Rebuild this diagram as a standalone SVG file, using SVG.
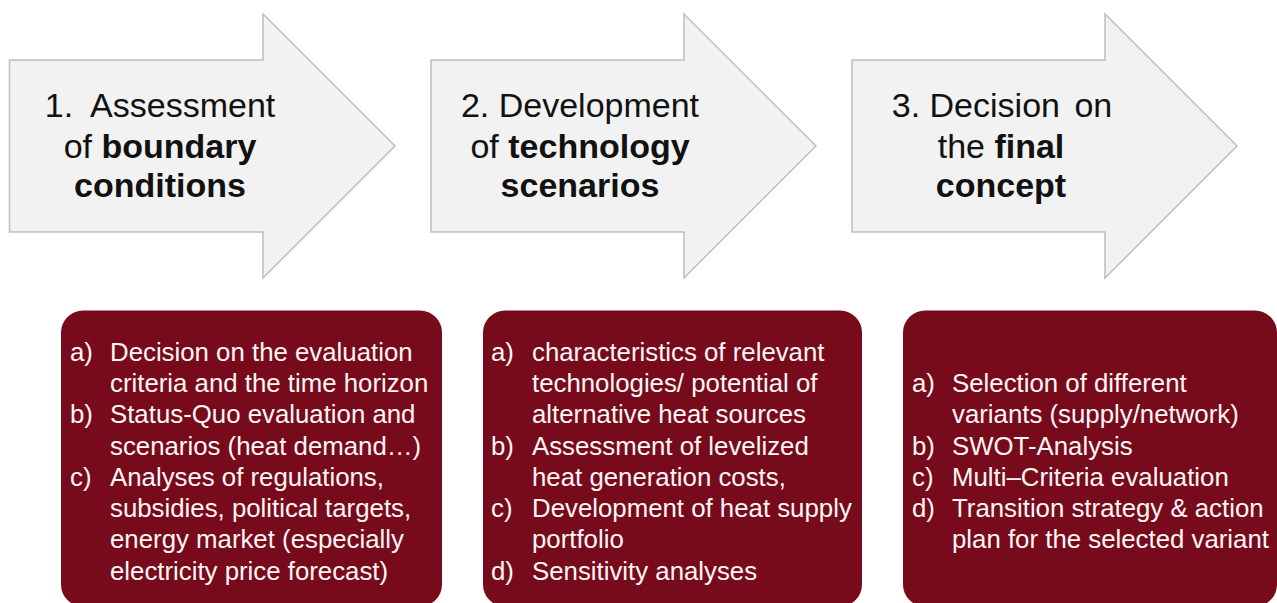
<svg xmlns="http://www.w3.org/2000/svg" width="1277" height="603" viewBox="0 0 1277 603">
<style>
.arrow{fill:#f2f2f2;stroke:#bfbfbf;stroke-width:1.5}
.box{fill:#780b1b}
.h{font-family:"Liberation Sans",Arial,sans-serif;font-size:34px;fill:#111;text-anchor:middle;white-space:pre}
.h .b{font-weight:bold}
.t{font-family:"Liberation Sans",Arial,sans-serif;font-size:25.8px;fill:#fdf7f7}
</style>
<rect width="1277" height="603" fill="#ffffff"/>
<g id="step1">
<polygon class="arrow" points="9.5,60 263,60 263,14 395,146 263,278 263,232 9.5,232"/>
<text class="h" x="160" y="117">1.  Assessment</text>
<text class="h" x="160" y="158">of <tspan class="b">boundary</tspan></text>
<text class="h" x="160" y="197"><tspan class="b">conditions</tspan></text>
</g>
<g id="step2">
<polygon class="arrow" points="431,60 684,60 684,14 816,146 684,278 684,232 431,232"/>
<text class="h" x="580" y="117">2. Development</text>
<text class="h" x="580" y="158">of <tspan class="b">technology</tspan></text>
<text class="h" x="580" y="197"><tspan class="b">scenarios</tspan></text>
</g>
<g id="step3">
<polygon class="arrow" points="852,60 1105,60 1105,14 1237,146 1105,278 1105,232 852,232"/>
<text class="h" x="1002" y="117">3. Decision <tspan dx="5">on</tspan></text>
<text class="h" x="1001" y="158">the <tspan class="b">final</tspan></text>
<text class="h" x="1001" y="197"><tspan class="b">concept</tspan></text>
</g>
<g id="tasks1">
<rect class="box" x="61" y="310.5" width="381" height="296" rx="22"/>
<text class="t" x="70" y="361">a)</text>
<text class="t" x="110" y="361">Decision on the evaluation</text>
<text class="t" x="110" y="392">criteria and the time horizon</text>
<text class="t" x="70" y="423">b)</text>
<text class="t" x="110" y="423">Status-Quo evaluation and</text>
<text class="t" x="110" y="455">scenarios (heat demand…)</text>
<text class="t" x="70" y="486">c)</text>
<text class="t" x="110" y="486">Analyses of regulations,</text>
<text class="t" x="110" y="517">subsidies, political targets,</text>
<text class="t" x="110" y="548">energy market (especially</text>
<text class="t" x="110" y="580">electricity price forecast)</text>
</g>
<g id="tasks2">
<rect class="box" x="483" y="310.5" width="379" height="296" rx="22"/>
<text class="t" x="491" y="361">a)</text>
<text class="t" x="532" y="361">characteristics of relevant</text>
<text class="t" x="532" y="392">technologies/ potential of</text>
<text class="t" x="532" y="423">alternative heat sources</text>
<text class="t" x="491" y="455">b)</text>
<text class="t" x="532" y="455">Assessment of levelized</text>
<text class="t" x="532" y="486">heat generation costs,</text>
<text class="t" x="491" y="517">c)</text>
<text class="t" x="532" y="517">Development of heat supply</text>
<text class="t" x="532" y="548">portfolio</text>
<text class="t" x="491" y="580">d)</text>
<text class="t" x="532" y="580">Sensitivity analyses</text>
</g>
<g id="tasks3">
<rect class="box" x="903" y="310.5" width="374" height="296" rx="22"/>
<text class="t" x="912" y="392">a)</text>
<text class="t" x="952" y="392">Selection of different</text>
<text class="t" x="952" y="423">variants (supply/network)</text>
<text class="t" x="912" y="455">b)</text>
<text class="t" x="952" y="455">SWOT-Analysis</text>
<text class="t" x="912" y="486">c)</text>
<text class="t" x="952" y="486">Multi–Criteria evaluation</text>
<text class="t" x="912" y="517">d)</text>
<text class="t" x="952" y="517">Transition strategy &amp; action</text>
<text class="t" x="952" y="548">plan for the selected variant</text>
</g>
</svg>
